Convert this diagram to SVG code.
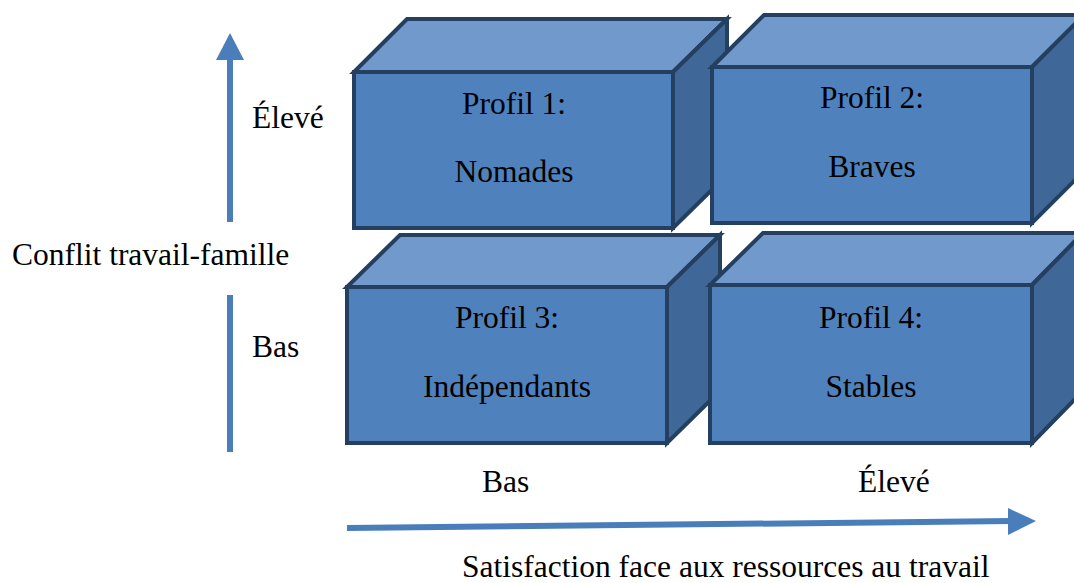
<svg xmlns="http://www.w3.org/2000/svg" width="1074" height="583" viewBox="0 0 1074 583">
  <style>
    .edge { stroke: #243f60; stroke-width: 4; stroke-linejoin: miter; }
    .front { fill: #4f81bd; }
    .top { fill: #7199cc; }
    .side { fill: #3f6798; }
    .lbl { font-family: "Liberation Serif", "Times New Roman", Times, serif; font-size: 31.5px; fill: #000; }
    .mid { text-anchor: middle; }
    .axis { stroke: #4a7ebb; stroke-width: 6; fill: none; }
    .head { fill: #4a7ebb; }
  </style>

  <!-- axes -->
  <g id="connectors">
    <line class="axis" x1="230" y1="222" x2="230" y2="56"/>
    <polygon class="head" points="230,33 216,60 244,60"/>
    <line class="axis" x1="230" y1="295" x2="230" y2="452"/>
    <path class="axis" d="M347,528 L1012,521"/>
    <polygon class="head" points="1036,521 1008,508 1008,535"/>
  </g>

  <!-- Profil 1 -->
  <g id="profil1">
    <polygon class="top edge" points="354,72 407,19 727,19 673,72"/>
    <polygon class="side edge" points="673,72 727,19 727,175 673,228"/>
    <rect class="front edge" x="354" y="72" width="319" height="156"/>
    <text class="lbl mid" x="514" y="114">Profil 1:</text>
    <text class="lbl mid" x="514" y="182">Nomades</text>
  </g>

  <!-- Profil 2 -->
  <g id="profil2">
    <polygon class="top edge" points="712,67 764,15 1084,15 1032,67"/>
    <polygon class="side edge" points="1032,67 1084,15 1084,171 1032,223"/>
    <rect class="front edge" x="712" y="67" width="320" height="156"/>
    <text class="lbl mid" x="872" y="108">Profil 2:</text>
    <text class="lbl mid" x="872" y="177">Braves</text>
  </g>

  <!-- Profil 3 -->
  <g id="profil3">
    <polygon class="top edge" points="347,287 400,235 720,235 667,287"/>
    <polygon class="side edge" points="667,287 720,235 720,391 667,443"/>
    <rect class="front edge" x="347" y="287" width="320" height="156"/>
    <text class="lbl mid" x="507" y="328">Profil 3:</text>
    <text class="lbl mid" x="507" y="397">Indépendants</text>
  </g>

  <!-- Profil 4 -->
  <g id="profil4">
    <polygon class="top edge" points="710,285 763,233 1083,233 1032,285"/>
    <polygon class="side edge" points="1032,285 1083,233 1083,391 1032,443"/>
    <rect class="front edge" x="710" y="285" width="322" height="158"/>
    <text class="lbl mid" x="871" y="328">Profil 4:</text>
    <text class="lbl mid" x="871" y="397">Stables</text>
  </g>

  <!-- axis labels -->
  <g id="labels">
    <text class="lbl" x="252" y="128">Élevé</text>
    <text class="lbl" x="12" y="265">Conflit travail-famille</text>
    <text class="lbl" x="252" y="357">Bas</text>
    <text class="lbl" x="482" y="492">Bas</text>
    <text class="lbl" x="858" y="492">Élevé</text>
    <text class="lbl" x="462" y="577">Satisfaction face aux ressources au travail</text>
  </g>
</svg>
